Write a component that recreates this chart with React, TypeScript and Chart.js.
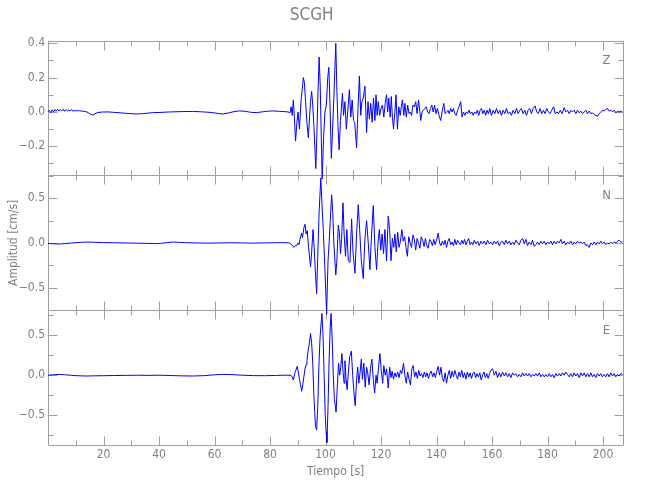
import React, { useEffect, useRef } from 'react';
import { Chart, registerables } from 'chart.js';

Chart.register(...registerables);

const FONT = "'Liberation Sans Narrow', 'DejaVu Sans Condensed', 'Liberation Sans', sans-serif";
const TEXT_COLOR = '#808080';
const AXIS_COLOR = '#a0a0a0';
const LINE_COLOR = '#0000ff';

const chartTitle = 'SCGH';
const xTitle = 'Tiempo [s]';
const yTitle = 'Amplitud [cm/s]';

const xMin = 0;
const xMax = 207.3;
const xMajorTicks = [20, 40, 60, 80, 100, 120, 140, 160, 180, 200];
const xMinorTicks = [10, 30, 50, 70, 90, 110, 130, 150, 170, 190];

const channelNames = ['Z', 'N', 'E'];

const zRange = [-0.37, 0.415];
const zMajorTicks = [-0.2, 0.0, 0.2, 0.4];
const zMinorTicks = [-0.3, -0.1, 0.1, 0.3];

const nRange = [-0.755, 0.757];
const nMajorTicks = [-0.5, 0.0, 0.5];
const nMinorTicks = [-0.75, -0.25, 0.25, 0.75];

const eRange = [-0.87, 0.81];
const eMajorTicks = [-0.5, 0.0, 0.5];
const eMinorTicks = [-0.75, -0.25, 0.25, 0.75];

// Z component [time s, velocity cm/s]
const zTrace: number[][] = [
  [0, 0.0], [0.5, 0.01], [1, -0.004], [1.5, 0.012], [2, 0.0], [2.5, 0.014], [3, 0.004], [3.5, 0.015],
  [4, 0.005], [4.5, 0.013], [5, 0.006], [5.5, 0.016], [6, 0.004], [6.5, 0.014], [7, 0.006], [7.5, 0.012],
  [8, 0.005], [8.5, 0.014], [9, 0.004], [9.5, 0.01], [10, 0.006], [11, 0.008], [12, 0.005], [13, 0.004],
  [14, 0.0], [15, -0.01], [16, -0.018], [17, -0.01], [18, -0.003], [20, 0.0], [22, 0.0], [24, -0.003],
  [26, -0.005], [28, -0.008], [30, -0.01], [32, -0.012], [34, -0.01], [36, -0.007], [38, -0.004], [40, -0.003],
  [44, 0.0], [48, 0.002], [52, 0.003], [55, 0.001], [58, -0.002], [61, -0.008], [63, -0.012], [65, -0.006],
  [67, 0.002], [69, 0.006], [71, 0.004], [73, -0.002], [75, -0.004], [77, 0.0], [79, 0.004], [81, 0.006],
  [83, 0.004], [85, 0.002], [86.5, 0.0], [87.2, -0.005],
  [87.6, 0.03], [88.0, -0.02], [88.4, 0.07], [88.8, -0.04], [89.2, -0.17], [89.7, -0.06], [90.1, 0.0], [90.6, -0.1],
  [91.2, 0.07], [91.6, 0.13], [92.0, 0.2], [92.4, 0.17], [92.8, 0.06], [93.3, -0.06], [93.8, -0.15], [94.3, -0.02],
  [94.6, 0.06], [95.0, 0.12], [95.4, 0.04], [95.8, -0.08], [96.5, -0.33], [96.9, -0.12], [97.3, 0.12], [97.7, 0.32],
  [98.1, 0.15], [98.4, -0.1], [98.8, -0.39], [99.3, -0.15], [99.8, 0.0], [100.3, 0.04], [100.8, 0.2], [101.2, 0.26],
  [101.6, 0.05], [102.1, -0.27], [102.5, -0.12], [103.0, 0.08], [103.7, 0.4], [104.1, 0.12], [104.5, -0.08], [104.9, -0.22],
  [105.4, -0.05], [106.1, 0.11], [106.5, -0.02], [107.0, 0.06], [107.5, -0.1], [108.0, 0.0], [108.6, 0.13], [109.1, -0.03],
  [109.6, 0.07], [110.1, -0.05], [110.5, -0.06], [111.2, -0.21], [111.7, 0.02], [112.2, 0.21], [112.7, -0.02], [113.1, 0.06],
  [113.6, 0.08], [114.2, 0.15], [114.8, -0.12], [115.3, 0.06], [115.8, -0.04], [116.3, 0.05], [116.8, -0.06], [117.3, 0.08],
  [117.8, -0.05], [118.2, 0.1], [118.6, -0.02], [119.0, 0.06], [119.5, -0.02], [120.0, 0.02], [120.5, 0.04], [121.0, -0.03],
  [121.5, 0.05], [122.0, 0.1], [122.4, 0.0], [122.8, 0.08], [123.3, -0.03], [123.7, 0.09], [124.1, -0.03], [124.5, -0.1],
  [125.0, 0.0], [125.4, 0.1], [125.9, -0.1], [126.4, 0.03], [126.9, -0.02], [127.3, 0.03], [127.7, 0.07], [128.2, -0.02],
  [128.6, 0.05], [129.1, -0.03], [129.6, 0.04], [130.1, -0.01], [130.6, 0.0], [131.0, -0.02], [131.5, 0.04], [132.0, 0.03],
  [132.5, 0.06], [133.0, -0.01], [133.5, 0.07], [134.0, 0.0], [134.3, -0.05], [134.8, 0.0], [135.3, 0.01], [135.8, 0.02],
  [136.3, 0.03], [136.8, 0.0], [137.3, -0.01], [137.8, 0.02], [138.3, 0.04], [138.8, 0.0], [139.3, 0.04], [139.8, -0.01],
  [140.3, 0.02], [140.9, -0.02], [141.5, -0.05], [142.0, 0.0], [142.6, 0.05], [143.1, -0.01], [143.6, 0.0], [144.1, 0.01],
  [144.6, -0.01], [145.1, 0.02], [145.6, 0.0], [146.1, 0.02], [146.6, -0.01], [147.1, -0.02], [147.6, 0.01], [148.1, 0.03],
  [148.7, 0.06], [149.2, -0.03], [149.7, 0.0], [150.2, -0.02], [150.7, 0.0], [151.2, -0.01], [151.7, 0.01], [152.2, -0.01],
  [152.7, 0.0], [153.2, -0.02], [153.7, 0.0], [154.2, -0.01], [154.7, 0.01], [155.2, -0.02], [155.7, 0.01], [156.2, 0.02],
  [156.7, -0.01], [157.2, 0.01], [157.7, -0.02], [158.2, 0.01], [158.7, -0.01], [159.2, 0.02], [159.8, -0.02], [160.4, 0.01],
  [161.0, -0.01], [161.6, 0.02], [162.2, -0.01], [162.8, 0.01], [163.4, -0.02], [164.0, 0.01], [164.6, -0.01], [165.2, 0.02],
  [165.8, -0.01], [166.4, 0.0], [167.0, -0.02], [167.6, 0.01], [168.2, -0.01], [168.8, 0.02], [169.4, -0.01], [170.0, 0.01],
  [170.6, 0.02], [171.2, -0.01], [171.8, 0.01], [172.4, -0.02], [173.0, 0.01], [173.6, 0.02], [174.2, -0.01], [174.8, 0.02],
  [175.5, 0.035], [176.1, 0.0], [176.7, -0.01], [177.3, 0.02], [177.9, -0.01], [178.5, 0.01], [179.1, -0.01], [179.7, 0.02],
  [180.3, 0.0], [180.9, -0.01], [181.5, 0.01], [182.2, 0.03], [182.8, -0.01], [183.4, 0.0], [184.0, -0.01], [184.6, 0.01],
  [185.2, -0.01], [186.0, 0.025], [186.6, 0.0], [187.2, 0.01], [187.8, -0.01], [188.4, 0.01], [189.0, 0.0], [189.6, 0.01],
  [190.2, -0.01], [190.8, 0.01], [191.4, -0.005], [192.0, 0.005], [192.6, -0.01], [193.2, 0.0], [193.8, 0.01], [194.4, -0.01],
  [195.0, 0.005], [195.6, -0.01], [196.2, -0.005], [196.8, -0.015], [197.4, -0.02], [198.0, -0.025], [198.6, -0.01], [199.2, 0.0],
  [199.8, 0.01], [200.4, 0.005], [201.0, 0.015], [201.6, 0.02], [202.2, 0.005], [202.8, 0.01], [203.4, 0.0], [204.0, 0.01],
  [204.6, -0.005], [205.2, 0.005], [205.8, 0.0], [206.5, 0.005], [207.0, 0.0],
];

// N component
const nTrace: number[][] = [
  [0, -0.005], [2, -0.01], [4, -0.012], [6, -0.008], [8, -0.002], [10, 0.003], [12, 0.007], [14, 0.01],
  [16, 0.008], [18, 0.006], [20, 0.004], [24, 0.002], [28, 0.0], [32, -0.003], [36, -0.005], [39, -0.008],
  [41, -0.004], [43, 0.004], [45, 0.01], [47, 0.007], [50, 0.002], [54, 0.0], [58, -0.002], [62, 0.0],
  [66, 0.002], [70, 0.0], [74, -0.002], [78, 0.0], [82, 0.002], [85, 0.003], [87, 0.0],
  [87.8, -0.02], [88.3, -0.04], [88.7, -0.05], [89.1, -0.03], [89.6, -0.03], [90.0, 0.0], [90.4, -0.02], [90.8, 0.04],
  [91.4, 0.11], [91.7, 0.06], [92.2, 0.17], [92.6, 0.21], [93.0, 0.1], [93.4, 0.14], [93.9, -0.05], [94.6, -0.27],
  [95.0, -0.1], [95.5, 0.15], [95.9, -0.05], [96.3, -0.3], [96.8, -0.57], [97.2, -0.15], [97.7, 0.35], [98.3, 0.73],
  [98.7, 0.45], [99.1, 0.2], [99.6, -0.15], [100.4, -0.8], [100.9, -0.2], [101.3, 0.0], [101.7, 0.25], [102.2, 0.54],
  [102.6, 0.35], [103.0, 0.0], [103.7, -0.36], [104.1, -0.2], [104.6, 0.2], [105.0, 0.12], [105.4, -0.12], [105.8, 0.05],
  [106.3, 0.45], [106.7, 0.1], [107.2, -0.15], [107.7, 0.15], [108.2, -0.2], [108.8, -0.22], [109.4, 0.27], [109.9, -0.1],
  [110.6, -0.34], [111.2, 0.1], [111.8, 0.43], [112.3, 0.15], [112.9, -0.2], [113.6, -0.4], [114.2, 0.05], [114.8, 0.25],
  [115.4, 0.0], [116.0, -0.3], [116.6, 0.1], [117.2, 0.42], [117.8, -0.05], [118.4, -0.3], [118.9, 0.0], [119.4, 0.15],
  [119.9, -0.08], [120.4, 0.1], [120.9, -0.12], [121.4, 0.15], [122.0, -0.2], [122.6, 0.3], [123.1, 0.15], [123.6, -0.2],
  [124.1, 0.05], [124.6, -0.05], [125.0, 0.1], [125.5, -0.1], [126.0, 0.12], [126.5, -0.05], [127.0, 0.02], [127.5, 0.15],
  [128.0, 0.02], [128.5, 0.07], [129.0, -0.05], [129.5, -0.15], [130.0, 0.07], [130.5, 0.0], [131.0, -0.05], [131.5, 0.09],
  [132.0, 0.04], [132.5, -0.08], [133.0, 0.05], [133.5, 0.0], [134.0, -0.06], [134.5, 0.07], [135.0, 0.03], [135.5, -0.04],
  [136.0, 0.05], [136.5, -0.03], [137.0, -0.06], [137.5, 0.04], [138.0, 0.02], [138.5, -0.03], [139.0, 0.04], [139.5, -0.02],
  [140.0, 0.03], [140.6, 0.11], [141.1, 0.0], [141.6, -0.03], [142.1, 0.02], [142.6, -0.02], [143.1, 0.03], [143.6, -0.05],
  [144.1, 0.02], [144.6, 0.05], [145.1, -0.02], [145.6, 0.01], [146.1, -0.03], [146.6, 0.04], [147.1, -0.02], [147.6, 0.03],
  [148.1, 0.0], [148.6, -0.02], [149.1, 0.03], [149.6, -0.01], [150.1, 0.04], [150.6, -0.02], [151.1, 0.02], [151.6, 0.05],
  [152.1, -0.02], [152.6, 0.01], [153.1, -0.02], [153.6, 0.03], [154.2, -0.01], [154.8, 0.02], [155.4, -0.03], [156.0, 0.02],
  [156.6, -0.01], [157.2, 0.02], [157.8, -0.02], [158.4, 0.03], [159.0, -0.01], [159.6, 0.01], [160.2, -0.02], [160.8, 0.02],
  [161.4, -0.01], [162.0, 0.02], [162.6, -0.03], [163.2, 0.01], [163.8, 0.02], [164.4, -0.02], [165.0, 0.03], [165.6, -0.01],
  [166.2, 0.02], [166.8, -0.02], [167.4, 0.01], [168.0, -0.02], [168.6, 0.03], [169.2, 0.0], [169.8, -0.02], [170.4, 0.03],
  [171.0, 0.05], [171.6, -0.01], [172.2, 0.04], [172.8, -0.03], [173.4, 0.01], [174.0, -0.02], [174.6, 0.03], [175.2, -0.04],
  [175.8, -0.02], [176.4, 0.01], [177.0, -0.02], [177.6, 0.02], [178.2, -0.01], [178.8, 0.02], [179.4, -0.02], [180.0, 0.01],
  [180.6, -0.01], [181.2, 0.02], [181.8, -0.02], [182.4, 0.02], [183.0, -0.01], [183.6, 0.02], [184.2, 0.0], [184.8, 0.04],
  [185.4, -0.01], [186.0, 0.02], [186.6, -0.02], [187.2, 0.01], [187.8, -0.01], [188.4, 0.02], [189.0, -0.02], [189.6, 0.01],
  [190.2, -0.01], [190.8, 0.02], [191.4, 0.0], [192.0, 0.01], [192.6, -0.01], [193.2, 0.01], [193.8, -0.03], [194.4, -0.02],
  [195.0, -0.05], [195.6, 0.0], [196.2, -0.02], [196.8, 0.01], [197.4, -0.02], [198.0, 0.01], [198.6, -0.01], [199.2, 0.02],
  [199.8, -0.01], [200.4, 0.01], [201.0, -0.02], [201.6, 0.0], [202.2, -0.01], [202.8, 0.01], [203.4, -0.01], [204.0, 0.01],
  [204.6, 0.0], [205.2, 0.02], [205.8, 0.03], [206.4, 0.01], [207.0, 0.01],
];

// E component
const eTrace: number[][] = [
  [0, 0.0], [2, 0.005], [4, 0.01], [6, 0.006], [8, 0.0], [10, -0.005], [12, -0.008], [14, -0.01],
  [16, -0.008], [20, -0.006], [24, -0.004], [28, -0.002], [32, 0.0], [36, -0.002], [40, 0.0], [44, -0.004],
  [48, -0.008], [52, -0.01], [56, -0.006], [60, 0.005], [63, 0.01], [66, 0.008], [70, 0.0], [74, -0.005],
  [78, -0.006], [82, -0.003], [85, 0.0], [87.5, 0.0],
  [88.0, -0.02], [88.4, -0.06], [88.9, 0.02], [89.3, 0.06], [89.8, 0.11], [90.2, 0.04], [90.6, -0.05], [91.0, -0.12],
  [91.4, -0.2], [91.8, -0.12], [92.2, -0.02], [92.6, 0.08], [93.0, 0.13], [93.3, 0.18], [93.7, 0.3], [94.1, 0.38],
  [94.6, 0.52], [95.0, 0.4], [95.4, 0.15], [95.8, -0.25], [96.1, -0.45], [96.4, -0.64], [96.8, -0.68], [97.2, -0.4],
  [97.6, 0.1], [98.0, 0.45], [98.3, 0.6], [98.7, 0.77], [99.1, 0.5], [99.5, 0.0], [99.9, -0.5], [100.2, -0.7],
  [100.5, -0.84], [100.9, -0.4], [101.3, 0.2], [101.7, 0.6], [102.0, 0.77], [102.4, 0.45], [102.8, 0.0], [103.2, -0.3],
  [103.8, -0.46], [104.3, -0.1], [104.7, 0.15], [105.1, 0.0], [105.5, 0.1], [105.9, 0.27], [106.3, 0.05], [106.7, -0.1],
  [107.0, 0.18], [107.4, -0.05], [107.8, -0.18], [108.2, 0.02], [108.7, 0.23], [109.3, 0.3], [109.8, 0.0], [110.2, -0.2],
  [110.7, -0.38], [111.2, -0.05], [111.6, 0.1], [112.0, -0.1], [112.5, 0.05], [112.9, 0.2], [113.3, -0.05], [113.8, 0.15],
  [114.3, -0.15], [114.8, 0.1], [115.2, 0.03], [115.7, -0.12], [116.2, 0.08], [116.7, 0.2], [117.2, -0.05], [117.7, -0.22],
  [118.2, 0.0], [118.6, -0.1], [119.1, 0.1], [119.6, 0.27], [120.1, 0.05], [120.6, -0.1], [121.0, 0.12], [121.5, 0.0],
  [122.0, 0.08], [122.6, -0.16], [123.1, 0.1], [123.6, -0.03], [124.0, 0.05], [124.5, -0.05], [125.0, 0.03], [125.5, -0.02],
  [126.0, 0.04], [126.5, -0.03], [127.0, 0.06], [127.5, 0.02], [128.1, 0.15], [128.6, 0.0], [129.1, -0.1], [129.6, 0.04],
  [130.1, -0.05], [130.6, -0.12], [131.1, 0.08], [131.6, 0.12], [132.1, -0.02], [132.6, 0.04], [133.1, -0.04], [133.6, 0.06],
  [134.1, -0.01], [134.6, 0.02], [135.1, -0.03], [135.6, 0.04], [136.1, -0.02], [136.6, 0.03], [137.1, -0.04], [137.6, 0.02],
  [138.1, 0.05], [138.6, -0.02], [139.1, 0.03], [139.6, -0.03], [140.1, 0.05], [140.6, 0.11], [141.1, 0.0], [141.6, 0.1],
  [142.1, -0.04], [142.6, -0.08], [143.1, 0.03], [143.6, -0.1], [144.1, 0.0], [144.6, 0.06], [145.1, -0.04], [145.6, 0.05],
  [146.1, -0.02], [146.6, 0.06], [147.1, 0.0], [147.6, -0.05], [148.1, 0.04], [148.6, -0.02], [149.1, 0.06], [149.6, -0.03],
  [150.1, 0.03], [150.6, -0.05], [151.1, 0.04], [151.6, -0.02], [152.1, 0.03], [152.6, -0.04], [153.1, 0.02], [153.6, 0.04],
  [154.1, -0.03], [154.6, 0.02], [155.1, -0.02], [155.6, 0.03], [156.1, -0.06], [156.6, 0.0], [157.1, 0.04], [157.6, -0.03],
  [158.1, 0.02], [158.6, -0.04], [159.1, 0.02], [159.6, 0.06], [160.2, 0.08], [160.8, 0.0], [161.4, 0.05], [162.0, -0.03],
  [162.6, 0.03], [163.2, -0.02], [163.8, 0.04], [164.4, -0.01], [165.0, 0.03], [165.6, -0.02], [166.2, 0.02], [166.8, -0.03],
  [167.4, 0.03], [168.0, 0.0], [168.6, 0.02], [169.2, -0.02], [169.8, 0.01], [170.4, -0.02], [171.0, 0.03], [171.6, -0.01],
  [172.2, 0.02], [172.8, -0.01], [173.4, 0.02], [174.0, -0.02], [174.6, 0.01], [175.2, -0.01], [175.8, 0.02], [176.4, -0.01],
  [177.0, 0.03], [177.6, -0.02], [178.2, 0.01], [178.8, -0.02], [179.4, 0.01], [180.0, -0.02], [180.6, 0.02], [181.2, -0.02],
  [181.8, 0.01], [182.4, -0.03], [183.0, 0.02], [183.6, -0.01], [184.2, 0.02], [184.8, -0.01], [185.4, 0.03], [186.0, 0.0],
  [186.6, 0.04], [187.2, 0.01], [187.8, -0.02], [188.4, 0.02], [189.0, -0.02], [189.6, 0.03], [190.2, -0.01], [190.8, 0.02],
  [191.4, -0.03], [192.0, 0.03], [192.6, -0.01], [193.2, 0.03], [193.8, -0.02], [194.4, 0.02], [195.0, -0.02], [195.6, 0.03],
  [196.2, -0.02], [196.8, 0.01], [197.4, -0.03], [198.0, 0.02], [198.6, -0.01], [199.2, 0.02], [199.8, -0.02], [200.4, 0.01],
  [201.0, -0.02], [201.6, 0.02], [202.2, -0.02], [202.8, 0.03], [203.4, -0.01], [204.0, 0.02], [204.6, -0.02], [205.2, 0.01],
  [205.8, -0.01], [206.4, 0.02], [207.0, 0.01],
];

const panels = [
  { id: 'yZ', name: channelNames[0], range: zRange, major: zMajorTicks, minor: zMinorTicks, trace: zTrace, weight: 3 },
  { id: 'yN', name: channelNames[1], range: nRange, major: nMajorTicks, minor: nMinorTicks, trace: nTrace, weight: 2 },
  { id: 'yE', name: channelNames[2], range: eRange, major: eMajorTicks, minor: eMinorTicks, trace: eTrace, weight: 1 },
];

const MAJOR_LEN = 9;
const MINOR_LEN = 5;

const fmtY = (v: number) => {
  const s = Math.abs(v).toFixed(1);
  return v < -1e-9 ? '\u2212' + s : s;
};

const framePlugin = {
  id: 'seismoFrames',
  beforeDatasetsDraw(chart: any) {
    const { ctx, chartArea } = chart;
    const xs = chart.scales.x;
    const L = Math.round(chartArea.left) + 0.5;
    const R = Math.round(chartArea.right) + 0.5;
    ctx.save();
    ctx.strokeStyle = AXIS_COLOR;
    ctx.lineWidth = 1;
    panels.forEach((p, i) => {
      const ys = chart.scales[p.id];
      const T = Math.round(ys.top) + 0.5;
      const B = Math.round(ys.bottom) + 0.5;
      ctx.beginPath();
      if (i === 0) {
        ctx.moveTo(L, T); ctx.lineTo(R, T);
      }
      ctx.moveTo(L, B); ctx.lineTo(R, B);
      ctx.moveTo(L, T); ctx.lineTo(L, B);
      ctx.moveTo(R, T); ctx.lineTo(R, B);
      const xTick = (v: number, len: number) => {
        const px = Math.round(xs.getPixelForValue(v)) + 0.5;
        ctx.moveTo(px, T); ctx.lineTo(px, T + len);
        ctx.moveTo(px, B); ctx.lineTo(px, B - len);
      };
      xMajorTicks.forEach((v) => xTick(v, MAJOR_LEN));
      xMinorTicks.forEach((v) => xTick(v, MINOR_LEN));
      const yTick = (v: number, len: number) => {
        const py = Math.round(ys.getPixelForValue(v)) + 0.5;
        if (py <= T || py >= B) return;
        ctx.moveTo(L, py); ctx.lineTo(L + len, py);
        ctx.moveTo(R, py); ctx.lineTo(R - len, py);
      };
      p.major.forEach((v) => yTick(v, MAJOR_LEN));
      p.minor.forEach((v) => yTick(v, MINOR_LEN));
      ctx.stroke();
      ctx.fillStyle = TEXT_COLOR;
      ctx.font = `13px ${FONT}`;
      ctx.textAlign = 'center';
      ctx.textBaseline = 'middle';
      ctx.fillText(p.name, R - 17, ys.top + 20);
    });
    ctx.restore();
  },
};

export default function App() {
  const canvasRef = useRef<HTMLCanvasElement | null>(null);

  useEffect(() => {
    if (!canvasRef.current) return;
    const tickFont = { family: FONT, size: 12 };
    const scales: any = {
      x: {
        type: 'linear',
        position: 'bottom',
        min: xMin,
        max: xMax,
        bounds: 'data',
        grid: { display: false, drawTicks: false },
        border: { display: false },
        ticks: {
          color: TEXT_COLOR,
          font: tickFont,
          padding: 3,
          autoSkip: false,
          maxRotation: 0,
          callback: (v: number) => String(v),
        },
        afterBuildTicks: (s: any) => {
          s.ticks = xMajorTicks.map((value) => ({ value }));
        },
        afterFit: (s: any) => {
          s.height = 55;
        },
        title: {
          display: true,
          text: xTitle,
          color: TEXT_COLOR,
          font: { family: FONT, size: 12 },
          padding: { top: 0, bottom: 21 },
        },
      },
    };
    panels.forEach((p) => {
      scales[p.id] = {
        type: 'linear',
        position: 'left',
        stack: 'panels',
        stackWeight: 1,
        weight: p.weight,
        min: p.range[0],
        max: p.range[1],
        bounds: 'data',
        grid: { display: false, drawTicks: false },
        border: { display: false },
        ticks: {
          color: TEXT_COLOR,
          font: tickFont,
          padding: 3,
          autoSkip: false,
          callback: (v: number) => fmtY(v),
        },
        afterBuildTicks: (s: any) => {
          s.ticks = p.major.map((value) => ({ value }));
        },
        afterFit: (s: any) => {
          s.width = 48;
        },
        title: {
          display: p.id === 'yN',
          text: yTitle,
          color: TEXT_COLOR,
          font: { family: FONT, size: 12 },
          padding: { top: 7, bottom: 0 },
        },
      };
    });

    const chart = new Chart(canvasRef.current, {
      type: 'line',
      data: {
        datasets: panels.map((p) => ({
          label: p.name,
          data: p.trace.map(([x, y]) => ({ x, y })),
          xAxisID: 'x',
          yAxisID: p.id,
          borderColor: LINE_COLOR,
          borderWidth: 1,
          pointRadius: 0,
          tension: 0,
          fill: false,
          clip: false as any,
        })),
      },
      options: {
        responsive: false,
        animation: false,
        devicePixelRatio: 1,
        layout: { padding: { left: 0, right: 26.7, top: 0, bottom: 0 } },
        plugins: {
          legend: { display: false },
          tooltip: { enabled: false },
          title: {
            display: true,
            text: chartTitle,
            color: TEXT_COLOR,
            font: { family: FONT, size: 17, weight: 'normal', lineHeight: 1.2 },
            padding: { top: 5, bottom: 15.3 },
          },
        },
        scales,
      },
      plugins: [framePlugin],
    } as any);

    return () => chart.destroy();
  }, []);

  return (
    <canvas
      ref={canvasRef}
      width={650}
      height={500}
      style={{ position: 'absolute', left: 0, top: 0, width: 650, height: 500 }}
    />
  );
}
